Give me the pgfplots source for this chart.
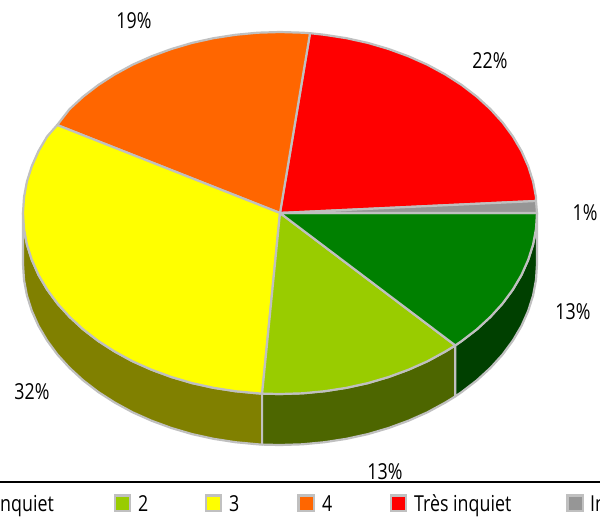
\documentclass[border=0pt]{standalone}
\usepackage{fontspec}
\setmainfont{Open Sans}[FakeStretch=0.81]
\usepackage{pgfplots}
\pgfplotsset{compat=1.18}
\definecolor{rim}{HTML}{C0C0C0}
\definecolor{cred}{HTML}{FF0000}
\definecolor{cgrey}{HTML}{969696}
\definecolor{cgreen}{HTML}{008000}
\definecolor{clime}{HTML}{99CC00}
\definecolor{cyellow}{HTML}{FFFF00}
\definecolor{corange}{HTML}{FF6600}
\definecolor{wgreen}{HTML}{004000}
\definecolor{wlime}{HTML}{4D6600}
\definecolor{wyellow}{HTML}{808000}
\tikzset{lab/.style={font=\fontsize{22}{24}\selectfont, inner sep=0pt}}
\pgfplotsset{
	slice/.style={fill=#1, draw=rim, line width=2.2pt, line join=round},
	swatch/.style={only marks, mark=square*, mark size=7.6pt,
		mark options={fill=#1, draw=rim, line width=2.2pt}},
}
\begin{document}
\begin{tikzpicture}
	\useasboundingbox (0,0) rectangle (600pt,523pt);
	\clip (0,0) rectangle (600pt,523pt);
	\begin{axis}[
			at={(0,0)}, anchor=south west,
			scale only axis,
			width=600pt,
			height=523pt,
			xmin=0, xmax=600,
			ymin=0, ymax=523,
			y dir=reverse,
			hide axis,
			clip=false,
		]
		% side walls
		\addplot[slice=wyellow] coordinates {
			(23,213)(24,228.8)(26.9,244.4)(31.8,259.8)(38.5,274.9)(47.1,289.5)(57.4,303.5)(69.5,316.8)
			(83.1,329.3)(98.3,341)(114.8,351.6)(132.6,361.3)(151.5,369.7)(171.4,377)(192.1,383.1)
			(213.5,387.8)(235.4,391.2)(257.6,393.3)(262.1,393.6)
			(262.1,444.6)(257.6,444.3)(235.4,442.2)(213.5,438.8)(192.1,434.1)(171.4,428)(151.5,420.7)
			(132.6,412.3)(114.8,402.6)(98.3,392)(83.1,380.3)(69.5,367.8)(57.4,354.5)(47.1,340.5)
			(38.5,325.9)(31.8,310.8)(26.9,295.4)(24,279.8)(23,264)
		} --cycle;
		\addplot[slice=wlime] coordinates {
			(262.1,393.6)(280,394)(302.4,393.3)(324.6,391.2)(346.5,387.8)(367.9,383.1)(388.6,377)
			(408.5,369.7)(427.4,361.3)(445.2,351.6)(455.3,345.4)
			(455.3,396.4)(445.2,402.6)(427.4,412.3)(408.5,420.7)(388.6,428)(367.9,434.1)(346.5,438.8)
			(324.6,442.2)(302.4,444.3)(280,445)(262.1,444.6)
		} --cycle;
		\addplot[slice=wgreen] coordinates {
			(455.3,345.4)(461.7,341)(476.9,329.3)(490.5,316.8)(502.6,303.5)(512.9,289.5)(521.5,274.9)
			(528.2,259.8)(533.1,244.4)(536,228.8)(537,213)
			(537,264)(536,279.8)(533.1,295.4)(528.2,310.8)(521.5,325.9)(512.9,340.5)(502.6,354.5)
			(490.5,367.8)(476.9,380.3)(461.7,392)(455.3,396.4)
		} --cycle;
		% top of the pie
		\addplot[slice=cred] coordinates {
			(280,213)(536,201)(536,197.2)(533.1,181.6)(528.2,166.2)(521.5,151.1)(512.9,136.5)(502.6,122.5)
			(490.5,109.2)(476.9,96.7)(461.7,85)(445.2,74.4)(427.4,64.7)(408.5,56.3)(388.6,49)
			(367.9,42.9)(346.5,38.2)(324.6,34.8)(310,33.2)
		} --cycle;
		\addplot[slice=corange] coordinates {
			(280,213)(310,33.2)(302.4,32.7)(280,32)(257.6,32.7)(235.4,34.8)(213.5,38.2)(192.1,42.9)
			(171.4,49)(151.5,56.3)(132.6,64.7)(114.8,74.4)(98.3,85)(83.1,96.7)(69.5,109.2)(57.2,125)
		} --cycle;
		\addplot[slice=cyellow] coordinates {
			(280,213)(57.2,125)(47.1,136.5)(38.5,151.1)(31.8,166.2)(26.9,181.6)(24,197.2)(23,213)
			(24,228.8)(26.9,244.4)(31.8,259.8)(38.5,274.9)(47.1,289.5)(57.4,303.5)(69.5,316.8)
			(83.1,329.3)(98.3,341)(114.8,351.6)(132.6,361.3)(151.5,369.7)(171.4,377)(192.1,383.1)
			(213.5,387.8)(235.4,391.2)(257.6,393.3)(262.1,393.6)
		} --cycle;
		\addplot[slice=clime] coordinates {
			(280,213)(262.1,393.6)(280,394)(302.4,393.3)(324.6,391.2)(346.5,387.8)(367.9,383.1)
			(388.6,377)(408.5,369.7)(427.4,361.3)(445.2,351.6)(455.3,345.4)
		} --cycle;
		\addplot[slice=cgreen] coordinates {
			(280,213)(455.3,345.4)(461.7,341)(476.9,329.3)(490.5,316.8)(502.6,303.5)(512.9,289.5)
			(521.5,274.9)(528.2,259.8)(533.1,244.4)(536,228.8)(537,213)
		} --cycle;
		\addplot[slice=cgrey] coordinates {
			(280,213)(537,213)(536,201)
		} --cycle;
		% percentages
		\node[lab] at (axis cs:134,21) {19\%};
		\node[lab] at (axis cs:490,61) {22\%};
		\node[lab] at (axis cs:585,213) {1\%};
		\node[lab] at (axis cs:573,312) {13\%};
		\node[lab] at (axis cs:32,392) {32\%};
		\node[lab] at (axis cs:385,472) {13\%};
		% legend rule and entries
		\addplot[black, line width=1.8pt] coordinates {(0,482)(600,482)};
		\addplot[swatch=clime] coordinates {(122.5,503)};
		\addplot[swatch=cyellow] coordinates {(213.5,503)};
		\addplot[swatch=corange] coordinates {(306,503)};
		\addplot[swatch=cred] coordinates {(398.5,503)};
		\addplot[swatch=cgrey] coordinates {(575,503)};
		\node[lab, anchor=base east] at (axis cs:54,511) {inquiet};
		\node[lab, anchor=base west] at (axis cs:138,511) {2};
		\node[lab, anchor=base west] at (axis cs:229,511) {3};
		\node[lab, anchor=base west] at (axis cs:322,511) {4};
		\node[lab, anchor=base west] at (axis cs:414,511) {Très inquiet};
		\node[lab, anchor=base west] at (axis cs:590,511) {Indécis};
	\end{axis}
\end{tikzpicture}
\end{document}
